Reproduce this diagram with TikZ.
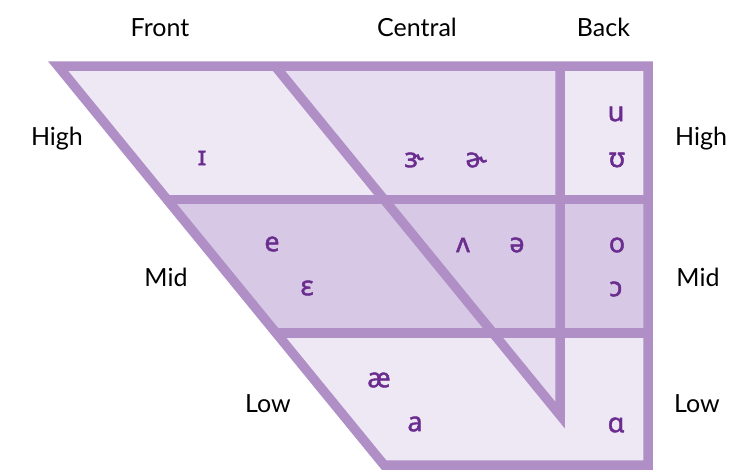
\documentclass[tikz,border=0pt]{standalone}
\usepackage{fontspec}
\setmainfont{Lato}
\newfontfamily\ipafont{Noto Sans}[FakeBold=1.6]
\definecolor{edgecol}{RGB}{175,143,198}
\definecolor{lightfill}{RGB}{238,231,244}
\definecolor{centerfill}{RGB}{230,222,240}
\definecolor{midfill}{RGB}{215,201,229}
\definecolor{vowelcol}{RGB}{106,45,143}
\tikzset{
  edgeline/.style={draw=edgecol, line width=9.5pt, line join=miter},
  axislabel/.style={anchor=base, inner sep=0pt, font=\fontsize{25}{28}\selectfont, text=black},
  vowel/.style={anchor=center, inner sep=0pt, font=\ipafont\fontsize{27}{30}\selectfont, text=vowelcol}
}
\begin{document}
\begin{tikzpicture}[x=1pt,y=-1pt]
\useasboundingbox (0,0) rectangle (732,471);
% outer corners
\coordinate (TL) at (58,66);
\coordinate (TR) at (648,66);
\coordinate (BR) at (648,465);
\coordinate (BL) at (384,465);
% row boundaries
\coordinate (L1) at (167.5,199.5);
\coordinate (R1) at (648,199.5);
\coordinate (L2) at (276,333);
\coordinate (R2) at (648,333);
% central diagonal and back vertical
\coordinate (D0) at (275,66);
\coordinate (D1) at (384.5,199.5);
\coordinate (D2) at (493.5,333);
\coordinate (V0) at (560,66);
\coordinate (V1) at (560,199.5);
\coordinate (V2) at (560,333);
\coordinate (VE) at (560,415);
% fills
\fill[lightfill] (TL) -- (TR) -- (BR) -- (BL) -- cycle;
\fill[centerfill] (D0) -- (V0) -- (V1) -- (D1) -- cycle;
\fill[midfill] (L1) -- (R1) -- (R2) -- (L2) -- cycle;
\fill[centerfill] (D2) -- (V2) -- (VE) -- cycle;
% lines
\draw[edgeline] (TL) -- (TR) -- (BR) -- (BL) -- cycle;
\draw[edgeline] (L1) -- (R1);
\draw[edgeline] (L2) -- (R2);
\draw[edgeline] (D0) -- (VE) -- (V0);
% axis labels
\node[axislabel] (front) at (160,36) {Front};
\node[axislabel] (central) at (417,36) {Central};
\node[axislabel] (back) at (603.5,36) {Back};
\node[axislabel] (highL) at (57,145) {High};
\node[axislabel] (highR) at (701,145) {High};
\node[axislabel] (midL) at (166,286) {Mid};
\node[axislabel] (midR) at (698,286) {Mid};
\node[axislabel] (lowL) at (268,412) {Low};
\node[axislabel] (lowR) at (697,412) {Low};
% vowels
\node[vowel] (v1) at (202,158) {ɪ};
\node[vowel] (v2) at (414,160) {ɝ};
\node[vowel] (v3) at (476,160) {ɚ};
\node[vowel] (v4) at (616,114) {u};
\node[vowel] (v5) at (617,160) {ʊ};
\node[vowel] (v6) at (272,244) {e};
\node[vowel] (v7) at (307,288) {ɛ};
\node[vowel] (v8) at (463,245) {ʌ};
\node[vowel] (v9) at (517,245) {ə};
\node[vowel] (v10) at (617,245) {o};
\node[vowel] (v11) at (616,289) {ɔ};
\node[vowel] (v12) at (379,380) {æ};
\node[vowel] (v13) at (415,424) {a};
\node[vowel] (v14) at (616,425) {ɑ};
\end{tikzpicture}
\end{document}
